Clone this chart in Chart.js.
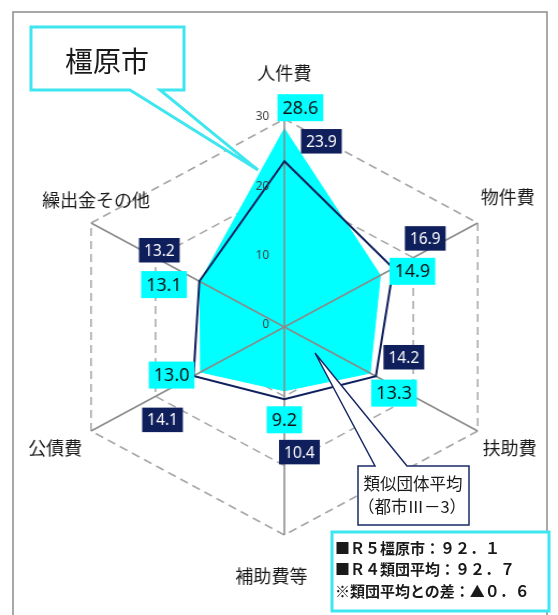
<!DOCTYPE html>
<html lang="ja">
<head>
<meta charset="UTF-8">
<title>性質別歳出決算額の構成比</title>
<script src="https://cdn.jsdelivr.net/npm/chart.js"></script>
<style>
  body { margin: 0; background: #fff; }
  .wrap { position: relative; width: 558px; height: 615px; overflow: hidden; }
  #chartRadar { position: absolute; left: 0; top: 0; }
  .overlay { position: absolute; left: 0; top: 0; }
  .overlay text { font-family: "Noto Sans CJK JP", sans-serif; fill: #1a1a1a; }
</style>
</head>
<body>
<div class="wrap">
  <!-- canvas is stretched a little horizontally, like the original picture -->
  <canvas id="chartRadar" width="520" height="615" style="width:558px;height:615px"></canvas>
  <svg class="overlay" width="558" height="615">
    <rect x="13" y="12" width="534" height="620" fill="none" stroke="#8c8c8c" stroke-width="1.5"/>
    <!-- 橿原市 callout -->
    <path d="M31,27 H184 V90 H160 L258,170 L130,90 H31 Z" fill="#fff" stroke="#3ee6f0" stroke-width="3"/>
    <text x="107" y="60" font-size="28" text-anchor="middle" dominant-baseline="central">橿原市</text>
    <!-- 類似団体平均 callout -->
    <path d="M358,466 H375 L315,353 L407,466 H469 V525 H358 Z" fill="#fff" stroke="#1a2a66" stroke-width="1.5"/>
    <text x="413" y="483" font-size="16.5" text-anchor="middle" dominant-baseline="central">類似団体平均</text>
    <text x="412" y="506" font-size="16.5" text-anchor="middle" dominant-baseline="central">（都市Ⅲ－3）</text>
    <!-- summary box -->
    <rect x="332" y="532" width="217" height="79" fill="#fff" stroke="#3ee6f0" stroke-width="3"/>
    <text x="335" y="547" font-size="15" font-weight="bold" dominant-baseline="central">■Ｒ５橿原市：９２．１</text>
    <text x="335" y="568" font-size="15" font-weight="bold" dominant-baseline="central">■Ｒ４類団平均：９２．７</text>
    <text x="335" y="590" font-size="15" font-weight="bold" dominant-baseline="central">※類団平均との差：▲０．６</text>
  </svg>
</div>
<script>
  const categories = ['人件費', '物件費', '扶助費', '補助費等', '公債費', '繰出金その他'];
  const kashiharaR5 = [28.6, 14.9, 13.3, 9.2, 13.0, 13.1];
  const ruidanAvg = [23.9, 16.9, 14.2, 10.4, 14.1, 13.2];
  const tickValues = [0, 10, 20, 30];

  const SX = 558 / 520; // css stretch of the canvas

  // where each value box sits, relative to its point (page px)
  const cyanLabelOffset = [[16, -21], [32, -4], [24, 20], [0, 29], [-29, 3], [-36, 3]];
  const navyLabelOffset = [[37, -20], [32, -30], [28, -19], [15, 53], [-31, 44], [-40, -31]];
  const catLabelOffset = [[0, -46], [30, -26], [32, 17], [-13, 41], [-36, 17], [5, -23]];

  const CYAN = '#00ffff';
  const NAVY = '#0f1f5c';

  // draw text at canvas coords without the horizontal stretch
  function textAt(ctx, str, x, y) {
    ctx.save();
    ctx.translate(x, y);
    ctx.scale(1 / SX, 1);
    ctx.fillText(str, 0, 0);
    ctx.restore();
  }

  function valueBox(ctx, str, x, y, bg, fg, size) {
    ctx.font = size + 'px "Noto Sans", sans-serif';
    const w = ctx.measureText(str).width + 10;
    const h = size + 9;
    ctx.fillStyle = bg;
    ctx.fillRect(x - w / 2 / SX, y - h / 2, w / SX, h);
    ctx.fillStyle = fg;
    ctx.textAlign = 'center';
    ctx.textBaseline = 'middle';
    textAt(ctx, str, x, y + 1);
  }

  const radarExtras = {
    id: 'radarExtras',
    afterDatasetDraw(chart, args) {
      if (args.index !== 1) return;
      // spokes over the cyan fill
      const r = chart.scales.r;
      const ctx = chart.ctx;
      ctx.save();
      ctx.strokeStyle = '#8a8a8a';
      ctx.lineWidth = 1.5;
      ctx.setLineDash([]);
      for (let i = 0; i < categories.length; i++) {
        const p = r.getPointPosition(i, r.drawingArea);
        ctx.beginPath();
        ctx.moveTo(r.xCenter, r.yCenter);
        ctx.lineTo(p.x, p.y);
        ctx.stroke();
      }
      ctx.restore();
    },
    afterDatasetsDraw(chart) {
      const r = chart.scales.r;
      const ctx = chart.ctx;
      ctx.save();
      // tick labels, left of the top spoke
      ctx.font = '12px "Noto Sans", sans-serif';
      ctx.fillStyle = '#404040';
      ctx.textAlign = 'right';
      ctx.textBaseline = 'middle';
      r.ticks.forEach(t => {
        const y = r.yCenter - r.getDistanceFromCenterForValue(t.value);
        textAt(ctx, t.label, r.xCenter - 15 / SX, y - 2);
      });

      // category names
      ctx.font = '18px "Noto Sans CJK JP", sans-serif';
      ctx.fillStyle = '#1a1a1a';
      ctx.textAlign = 'center';
      categories.forEach((c, i) => {
        const p = r.getPointPosition(i, r.drawingArea);
        textAt(ctx, c, p.x + catLabelOffset[i][0] / SX, p.y + catLabelOffset[i][1]);
      });

      // value boxes
      const metaNavy = chart.getDatasetMeta(0);
      const metaCyan = chart.getDatasetMeta(1);
      metaCyan.data.forEach((pt, i) => {
        valueBox(ctx, kashiharaR5[i].toFixed(1), pt.x + cyanLabelOffset[i][0] / SX,
          pt.y + cyanLabelOffset[i][1], CYAN, '#111', 18);
      });
      metaNavy.data.forEach((pt, i) => {
        valueBox(ctx, ruidanAvg[i].toFixed(1), pt.x + navyLabelOffset[i][0] / SX,
          pt.y + navyLabelOffset[i][1], NAVY, '#fff', 15.5);
      });
      ctx.restore();
    }
  };

  const ctxRadar = document.getElementById('chartRadar');
  const radarChart = new Chart(ctxRadar, {
    type: 'radar',
    data: {
      labels: categories,
      datasets: [{
        label: '類似団体平均（都市Ⅲ－3）',
        data: ruidanAvg,
        borderColor: NAVY,
        borderWidth: 2,
        backgroundColor: 'rgba(0,0,0,0)',
        fill: false,
        pointRadius: 0
      }, {
        label: 'R5橿原市',
        data: kashiharaR5,
        borderColor: CYAN,
        borderWidth: 1,
        backgroundColor: CYAN,
        fill: true,
        pointRadius: 0
      }]
    },
    options: {
      responsive: false,
      animation: false,
      layout: { padding: { left: 57, right: 47, top: 119, bottom: 80 } },
      elements: { line: { tension: 0 } },
      scales: {
        r: {
          min: tickValues[0],
          max: tickValues[tickValues.length - 1],
          ticks: { display: false, stepSize: tickValues[1] - tickValues[0] },
          pointLabels: { display: false },
          angleLines: { display: false },
          grid: { color: '#a6a6a6', lineWidth: 1.5 },
          border: { dash: [8, 5] }
        }
      },
      plugins: {
        legend: { display: false },
        tooltip: { enabled: false }
      }
    },
    plugins: [radarExtras]
  });
</script>
</body>
</html>
